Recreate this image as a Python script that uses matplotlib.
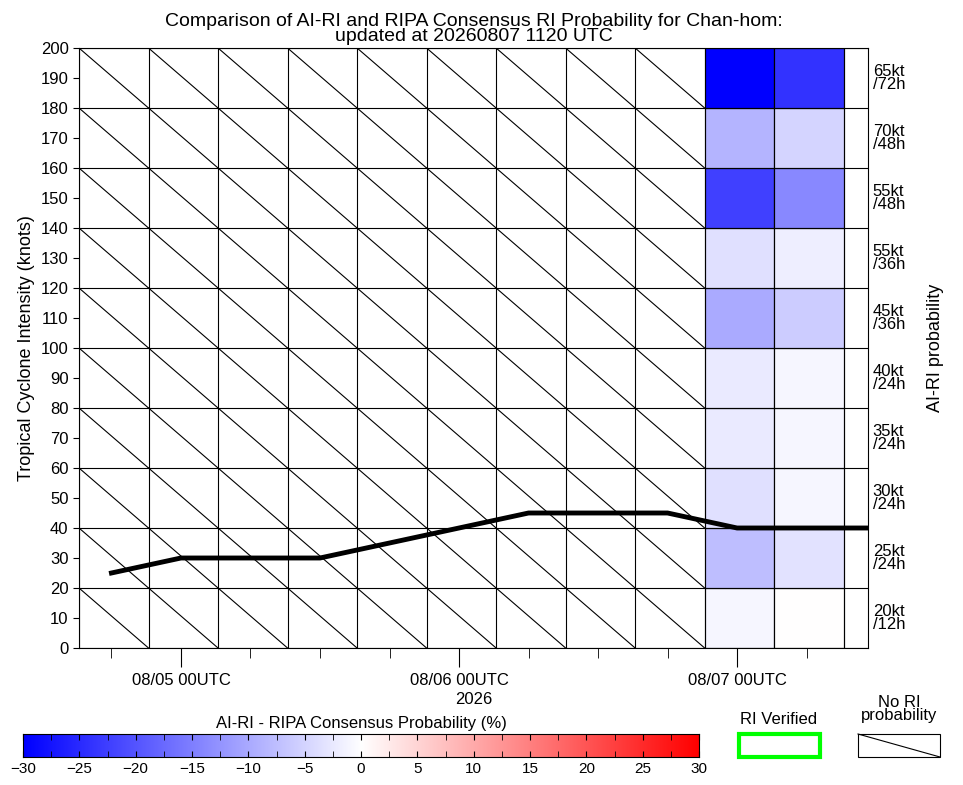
import numpy as np
import matplotlib
matplotlib.use("Agg")
import matplotlib.pyplot as plt
from matplotlib.colors import LinearSegmentedColormap, Normalize
from matplotlib.patches import Rectangle

plt.rcParams['font.family'] = ['Liberation Sans', 'DejaVu Sans']

# data (hours relative to 08/05 00UTC)
line_hours = [-6, 0, 6, 12, 18, 24, 30, 36, 42, 48, 54, 60]
line_kt = [25, 30, 30, 30, 35, 40, 45, 45, 45, 40, 40, 40]
row_labels = ["20kt\n/12h", "25kt\n/24h", "30kt\n/24h", "35kt\n/24h", "40kt\n/24h",
              "45kt\n/36h", "55kt\n/36h", "55kt\n/48h", "70kt\n/48h", "65kt\n/72h"]
# differences (%) per row bottom->top, for the two colored columns
col1_diff = [-1, -7.6, -3.6, -2.5, -2.5, -10, -3.6, -22.5, -8.7, -30]
col2_diff = [0, -3.4, -1, -1, -1, -6, -2, -14, -5, -24]

x0, x1 = -8.8, 59.3
cell_w = 6.0
fig = plt.figure(figsize=(9.63, 7.85), dpi=100)
ax = fig.add_axes([79/963, 1-648/785, (868-79)/963, 600/785])
cmap = LinearSegmentedColormap.from_list("bwr2", [(0, 0, 1), (1, 1, 1), (1, 0, 0)])
norm = Normalize(-30, 30)

n_full = 9
for i in range(n_full):
    xa = x0 + i*cell_w
    for r in range(10):
        ya = r*20
        ax.plot([xa, xa+cell_w], [ya+20, ya], color='black', lw=0.8, zorder=1)
for j, vals in enumerate([col1_diff, col2_diff]):
    xa = x0 + (n_full+j)*cell_w
    for r, v in enumerate(vals):
        ax.add_patch(Rectangle((xa, r*20), cell_w, 20, facecolor=cmap(norm(v)),
                               edgecolor='black', lw=0.8, zorder=1))
for i in range(n_full+3):
    ax.axvline(x0+i*cell_w, color='black', lw=0.8, zorder=1)
for r in range(11):
    ax.axhline(r*20, color='black', lw=0.8, zorder=1)

ax.plot(line_hours, line_kt, color='black', lw=3.5, zorder=3, clip_on=True)

ax.set_xlim(x0, x1)
ax.set_ylim(0, 200)
ax.set_yticks(np.arange(0, 201, 10))
ax.tick_params(axis='y', labelsize=12, direction='out', length=4)
ax.set_xticks([0, 24, 48])
ax.set_xticklabels(["08/05 00UTC", "08/06 00UTC", "08/07 00UTC"], fontsize=12)
ax.set_xticks(np.arange(-6, 60, 6), minor=True)
ax.tick_params(axis='x', which='major', length=14, direction='out', pad=4)
ax.tick_params(axis='x', which='minor', length=7, direction='out')
ax.set_xlabel("2026", fontsize=12, labelpad=3)
ax.set_ylabel("Tropical Cyclone Intensity (knots)", fontsize=13)
ax.set_title("Comparison of AI-RI and RIPA Consensus RI Probability for Chan-hom:\nupdated at 20260807 1120 UTC",
             fontsize=14, linespacing=0.85, pad=5)
for r, lab in enumerate(row_labels):
    ax.text(1.006, (r*20+10)/200, lab, transform=ax.transAxes, fontsize=12,
            va='center', ha='left', linespacing=0.8)
fig.text(935/963, 1-348/785, "AI-RI probability", rotation=90, fontsize=13,
         va='center', ha='center')

cax = fig.add_axes([23/963, 1-757/785, 676/963, 23/785])
grad = np.linspace(-30, 30, 256).reshape(1, -1)
cax.imshow(grad, aspect='auto', cmap=cmap, norm=norm, extent=[-30, 30, 0, 1])
cax.set_yticks([])
cax.set_xticks(np.arange(-30, 31, 5))
cax.set_xticks(np.arange(-30, 31, 2.5), minor=True)
cax.tick_params(axis='x', which='both', direction='in', top=True, length=4, labelsize=11)
cax.set_title("AI-RI - RIPA Consensus Probability (%)", fontsize=12, pad=4)

fig.patches.append(Rectangle((739/963, 1-757/785), 81/963, 23/785, transform=fig.transFigure,
                             fill=False, edgecolor=(0, 1, 0), lw=3))
fig.text(779/963, 1-720/785, "RI Verified", fontsize=12, ha='center', va='center')
fig.patches.append(Rectangle((858/963, 1-757/785), 82/963, 23/785, transform=fig.transFigure,
                             fill=False, edgecolor='black', lw=0.8))
fig.lines.append(plt.Line2D([858/963, 940/963], [1-734/785, 1-757/785],
                            transform=fig.transFigure, color='black', lw=0.8))
fig.text(899/963, 1-709/785, "No RI\nprobability", fontsize=12, ha='center', va='center',
         linespacing=0.8)

fig.savefig("out.png", dpi=100)
